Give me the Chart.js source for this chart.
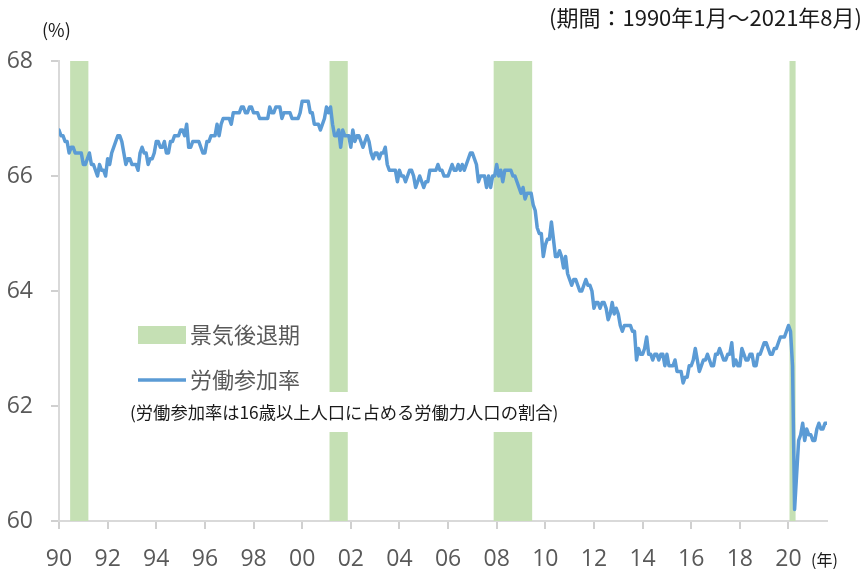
<!DOCTYPE html>
<html>
<head>
<meta charset="utf-8">
<script src="https://cdn.jsdelivr.net/npm/chart.js@4/dist/chart.umd.min.js"></script>
<style>
  body { margin: 0; background: #fff; }
  #wrap { width: 864px; height: 569px; }
</style>
</head>
<body>
<div id="wrap"><canvas id="lfprChart" width="864" height="569"></canvas></div>
<script>
// 労働参加率（%）、月次 1990年1月～2021年8月
const lfpr1990s = [
  66.8, 66.7, 66.7, 66.6, 66.6, 66.4, 66.5, 66.5, 66.4, 66.4, 66.4, 66.4,
  66.2, 66.2, 66.3, 66.4, 66.2, 66.2, 66.1, 66.0, 66.2, 66.1, 66.1, 66.0,
  66.3, 66.2, 66.4, 66.5, 66.6, 66.7, 66.7, 66.6, 66.4, 66.2, 66.3, 66.3,
  66.2, 66.2, 66.2, 66.1, 66.4, 66.5, 66.4, 66.4, 66.2, 66.3, 66.3, 66.4,
  66.6, 66.6, 66.5, 66.5, 66.6, 66.4, 66.4, 66.6, 66.6, 66.7, 66.7, 66.7,
  66.8, 66.8, 66.7, 66.9, 66.5, 66.5, 66.6, 66.6, 66.6, 66.6, 66.5, 66.4,
  66.4, 66.6, 66.6, 66.7, 66.7, 66.7, 66.9, 66.7, 66.9, 67.0, 67.0, 67.0,
  67.0, 66.9, 67.1, 67.1, 67.1, 67.1, 67.2, 67.2, 67.1, 67.1, 67.2, 67.2,
  67.1, 67.1, 67.1, 67.0, 67.0, 67.0, 67.0, 67.0, 67.2, 67.1, 67.1, 67.2,
  67.2, 67.2, 67.0, 67.1, 67.1, 67.1, 67.1, 67.0, 67.0, 67.0, 67.0, 67.1
];
const lfpr2000s = [
  67.3, 67.3, 67.3, 67.3, 67.1, 67.1, 66.9, 66.9, 66.9, 66.8, 66.9, 67.0,
  67.2, 67.1, 67.2, 66.9, 66.7, 66.7, 66.8, 66.5, 66.8, 66.7, 66.7, 66.7,
  66.5, 66.8, 66.6, 66.7, 66.7, 66.6, 66.5, 66.6, 66.7, 66.6, 66.4, 66.3,
  66.4, 66.4, 66.3, 66.4, 66.4, 66.5, 66.2, 66.1, 66.1, 66.1, 66.1, 65.9,
  66.1, 66.0, 66.0, 65.9, 66.0, 66.1, 66.1, 66.0, 65.8, 65.9, 66.0, 65.9,
  65.8, 65.9, 65.9, 66.1, 66.1, 66.1, 66.1, 66.2, 66.1, 66.1, 66.0, 66.0,
  66.0, 66.1, 66.2, 66.1, 66.1, 66.2, 66.1, 66.2, 66.1, 66.2, 66.3, 66.4,
  66.4, 66.3, 66.2, 65.9, 66.0, 66.0, 66.0, 65.8, 66.0, 65.8, 66.0, 66.0,
  66.2, 66.0, 66.1, 65.9, 66.1, 66.1, 66.1, 66.1, 66.0, 66.0, 65.9, 65.8,
  65.7, 65.8, 65.6, 65.7, 65.7, 65.7, 65.5, 65.4, 65.1, 65.0, 65.0, 64.6
];
const lfpr2010s = [
  64.8, 64.9, 64.9, 65.2, 64.9, 64.6, 64.6, 64.7, 64.6, 64.4, 64.6, 64.3,
  64.2, 64.1, 64.2, 64.2, 64.1, 64.0, 64.0, 64.1, 64.2, 64.1, 64.1, 64.0,
  63.7, 63.8, 63.8, 63.7, 63.8, 63.8, 63.7, 63.5, 63.6, 63.8, 63.6, 63.7,
  63.6, 63.4, 63.3, 63.4, 63.4, 63.4, 63.4, 63.3, 63.3, 62.8, 63.0, 62.9,
  62.9, 63.0, 63.2, 62.9, 62.9, 62.8, 62.9, 62.9, 62.8, 62.9, 62.9, 62.7,
  62.9, 62.7, 62.7, 62.7, 62.8, 62.6, 62.6, 62.6, 62.4, 62.5, 62.5, 62.7,
  62.7, 62.8, 63.0, 62.8, 62.6, 62.7, 62.8, 62.8, 62.9, 62.8, 62.7, 62.7,
  62.9, 62.9, 63.0, 62.9, 62.8, 62.8, 62.9, 62.9, 63.1, 62.7, 62.8, 62.7,
  62.7, 63.0, 62.9, 62.8, 62.8, 62.9, 62.9, 62.7, 62.7, 62.9, 62.9, 63.0,
  63.1, 63.1, 63.0, 62.9, 62.9, 63.0, 63.0, 63.1, 63.2, 63.2, 63.2, 63.3
];
const lfpr2020s = [
  63.4, 63.3, 62.7, 60.2, 60.8, 61.4, 61.5, 61.7, 61.4, 61.6, 61.5, 61.5,
  61.4, 61.4, 61.6, 61.7, 61.6, 61.6, 61.7, 61.7
];

// 景気後退期（開始月・終了月）
const recessionStart = ['1990-07', '2001-03', '2007-12', '2020-02'];
const recessionEnd   = ['1991-03', '2001-11', '2009-06', '2020-04'];

// 目盛り
const xTickYears = [1990, 1992, 1994, 1996, 1998, 2000, 2002, 2004, 2006, 2008, 2010, 2012, 2014, 2016, 2018, 2020];
const yTicks = [60, 62, 64, 66, 68];

const firstYear = 1990;
const lfpr = [...lfpr1990s, ...lfpr2000s, ...lfpr2010s, ...lfpr2020s];

// "YYYY-MM" -> 1990年1月からの月数
function monthIndex(ym) {
  const [y, m] = ym.split('-').map(Number);
  return (y - firstYear) * 12 + (m - 1);
}

const GREEN = '#c5e0b4';
const BLUE = '#5b9bd5';
const JP_FONT = '"Noto Sans CJK JP", "Noto Sans", sans-serif';

// 景気後退期の帯と凡例・注記を描く
const recessionPlugin = {
  id: 'recessions',
  beforeDatasetsDraw(chart) {
    const { ctx, chartArea, scales } = chart;
    ctx.save();
    ctx.fillStyle = GREEN;
    recessionStart.forEach((s, i) => {
      const x0 = scales.x.getPixelForValue(monthIndex(s) - 0.5);
      const x1 = scales.x.getPixelForValue(monthIndex(recessionEnd[i]) + 0.5);
      ctx.fillRect(x0, chartArea.top, x1 - x0, chartArea.bottom - chartArea.top);
    });

    // 凡例
    ctx.fillRect(138, 326, 48, 18);
    ctx.strokeStyle = BLUE;
    ctx.lineWidth = 3.5;
    ctx.beginPath();
    ctx.moveTo(138, 380);
    ctx.lineTo(186, 380);
    ctx.stroke();

    ctx.fillStyle = '#595959';
    ctx.font = '22px ' + JP_FONT;
    ctx.textBaseline = 'middle';
    ctx.textAlign = 'left';
    ctx.fillText('景気後退期', 190, 335);
    ctx.fillText('労働参加率', 190, 380);

    // 注記（白背景）
    ctx.fillStyle = '#ffffff';
    ctx.fillRect(128, 392, 436, 40);
    ctx.fillStyle = '#1a1a1a';
    ctx.font = '17.3px ' + JP_FONT;
    ctx.fillText('(労働参加率は16歳以上人口に占める労働力人口の割合)', 130, 412);
    ctx.restore();
  },
  afterDraw(chart) {
    const { ctx } = chart;
    ctx.save();
    ctx.fillStyle = '#1a1a1a';
    ctx.textBaseline = 'middle';
    ctx.font = '22px ' + JP_FONT;
    ctx.textAlign = 'right';
    ctx.fillText('(期間：1990年1月～2021年8月)', 862, 18);
    ctx.font = '18px ' + JP_FONT;
    ctx.textAlign = 'left';
    ctx.fillText('(%)', 42, 30);
    ctx.font = '16px ' + JP_FONT;
    ctx.fillText('(年)', 811, 560);
    ctx.restore();
  }
};

new Chart(document.getElementById('lfprChart'), {
  type: 'line',
  data: {
    datasets: [{
      label: '労働参加率',
      data: lfpr.map((v, i) => ({ x: i, y: v })),
      borderColor: BLUE,
      borderWidth: 3.5,
      borderJoinStyle: 'round',
      borderCapStyle: 'round',
      pointRadius: 0,
      tension: 0,
      fill: false
    }]
  },
  options: {
    responsive: false,
    animation: false,
    devicePixelRatio: 1,
    layout: { padding: { left: 0, right: 37, top: 61, bottom: 0 } },
    plugins: {
      legend: { display: false },
      tooltip: { enabled: false }
    },
    scales: {
      x: {
        type: 'linear',
        min: 0,
        max: lfpr.length - 1,
        afterBuildTicks(scale) {
          scale.ticks = xTickYears.map(y => ({ value: (y - firstYear) * 12 }));
        },
        afterFit(scale) { scale.height = 48; },
        grid: { drawOnChartArea: false, tickLength: 8, color: '#d0d0d0', lineWidth: 2 },
        border: { color: '#d9d9d9', width: 2 },
        ticks: {
          padding: 17,
          maxRotation: 0,
          autoSkip: false,
          color: '#595959',
          font: { family: '"Open Sans", "Noto Sans", sans-serif', size: 23 },
          callback: v => String((firstYear + v / 12) % 100).padStart(2, '0')
        }
      },
      y: {
        min: 60,
        max: 68,
        afterBuildTicks(scale) {
          scale.ticks = yTicks.map(v => ({ value: v }));
        },
        afterFit(scale) { scale.width = 59; },
        grid: { drawOnChartArea: false, tickLength: 8, color: '#d0d0d0', lineWidth: 2 },
        border: { color: '#d9d9d9', width: 2 },
        ticks: {
          padding: 18,
          color: '#595959',
          font: { family: '"Open Sans", "Noto Sans", sans-serif', size: 23 }
        }
      }
    }
  },
  plugins: [recessionPlugin]
});
</script>
</body>
</html>
